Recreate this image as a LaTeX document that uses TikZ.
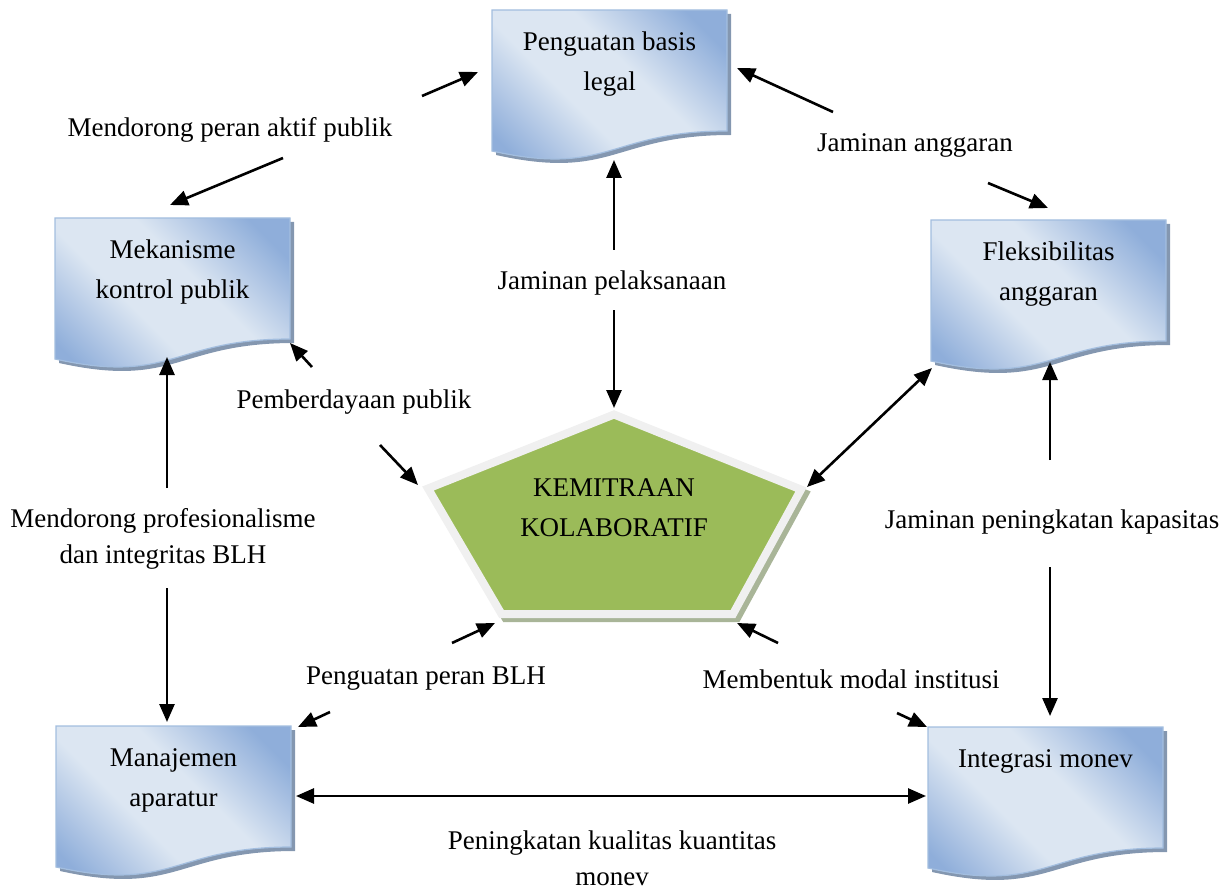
\documentclass[tikz,border=0pt]{standalone}
\usepackage{fontspec}
\setmainfont{Liberation Serif}
\usetikzlibrary{arrows.meta,calc}
\definecolor{docdark}{HTML}{8FAEDA}
\definecolor{doclight}{HTML}{DCE6F2}
\definecolor{docedge}{HTML}{A3BEDF}
\definecolor{docshadow}{HTML}{8497B0}
\definecolor{pentgreen}{HTML}{9BBB59}
\definecolor{pentedge}{HTML}{F0F0F0}
\definecolor{pentshadow}{HTML}{A9B598}
\pgfdeclarehorizontalshading{docshade}{100bp}{color(0bp)=(docdark); color(22bp)=(docdark); color(42bp)=(doclight); color(58bp)=(doclight); color(78bp)=(docdark); color(100bp)=(docdark)}
\tikzset{
  arr/.style={line width=2.6pt, -{Triangle[length=18pt,width=15pt]}},
  dblarr/.style={line width=2.6pt, {Triangle[length=18pt,width=15pt]}-{Triangle[length=18pt,width=15pt]}},
  boxtext/.style={align=center, inner sep=0pt, anchor=north, font=\fontsize{27}{40}\selectfont},
  lbl/.style={align=center, inner sep=0pt, font=\fontsize{27}{36}\selectfont},
  boxframe/.style={inner sep=0pt, minimum width=235pt, minimum height=151pt, anchor=north west}
}
\newcommand{\docbox}[4]{%
  \begin{scope}[shift={(#2,#3)}]
    \fill[docshadow] (4,4) -- (239,4) -- (239,125) .. controls (121.5,125) and (121.5,171) .. (4,145) -- cycle;
    \shadedraw[shading=docshade, shading angle=45, draw=docedge, line width=1.2pt]
      (0,0) -- (235,0) -- (235,121) .. controls (117.5,121) and (117.5,167) .. (0,141) -- cycle;
    \node[boxframe] (#1) at (0,0) {};
    \node[boxtext] (#1-t) at (117.5,22) {#4};
  \end{scope}}
\begin{document}
\begin{tikzpicture}[x=1pt,y=-1pt]
\useasboundingbox (0,0) rectangle (1230,890);

% document boxes
\docbox{legal}{492}{10}{Penguatan basis\\legal}
\docbox{kontrol}{55}{218}{Mekanisme\\kontrol publik}
\docbox{fleks}{931}{220}{Fleksibilitas\\anggaran}
\docbox{manaj}{56}{726}{Manajemen\\aparatur}
\docbox{monev}{928}{727}{Integrasi monev}

% pentagon
\fill[pentshadow, draw=pentshadow, line width=8pt, line join=miter]
  (618,418.5) -- (805,493.5) -- (737,618) -- (505.5,618) -- (432,492.5) -- cycle;
\filldraw[fill=pentgreen, draw=pentedge, line width=8pt, line join=miter]
  (614,414.5) -- (801,489.5) -- (733,614) -- (501.5,614) -- (428,488.5) -- cycle;
\node[boxtext, anchor=center] (kemitraan) at (614,508) {KEMITRAAN\\KOLABORATIF};

% labels
\node[lbl] (lA) at (230,130) {Mendorong peran aktif publik};
\node[lbl] (lB) at (915,145) {Jaminan anggaran};
\node[lbl] (lG) at (612,283) {Jaminan pelaksanaan};
\node[lbl] (lC) at (354,402) {Pemberdayaan publik};
\node[lbl] (lH) at (163,539) {Mendorong profesionalisme\\dan integritas BLH};
\node[lbl] (lI) at (1052,522) {Jaminan peningkatan kapasitas};
\node[lbl] (lE) at (426,679) {Penguatan peran BLH};
\node[lbl] (lF) at (851,679) {Membentuk modal institusi};
\node[lbl] (lJ) at (612,858) {Peningkatan kualitas kuantitas\\monev};

% connector end points
\coordinate (A1s) at (422,96);  \coordinate (A1e) at (478,72);
\coordinate (A2s) at (283,158); \coordinate (A2e) at (170,205);
\coordinate (B1s) at (833,112); \coordinate (B1e) at (737,68);
\coordinate (B2s) at (988,183); \coordinate (B2e) at (1048,208);
\coordinate (C1s) at (312,367); \coordinate (C1e) at (290,343);
\coordinate (C2s) at (380,445); \coordinate (C2e) at (418,485);
\coordinate (Ds) at (807,487);  \coordinate (De) at (932,368);
\coordinate (E1s) at (452,643); \coordinate (E1e) at (495,623);
\coordinate (E2s) at (330,712); \coordinate (E2e) at (298,727);
\coordinate (F1s) at (778,643); \coordinate (F1e) at (737,623);
\coordinate (F2s) at (897,713); \coordinate (F2e) at (927,727);
\coordinate (G1s) at (614,250); \coordinate (G1e) at (614,160);
\coordinate (G2s) at (614,310); \coordinate (G2e) at (614,408);
\coordinate (H1s) at (167,488); \coordinate (H1e) at (167,357);
\coordinate (H2s) at (167,588); \coordinate (H2e) at (167,722);
\coordinate (I1s) at (1050,460); \coordinate (I1e) at (1050,362);
\coordinate (I2s) at (1050,567); \coordinate (I2e) at (1050,716);
\coordinate (Js) at (296,796);  \coordinate (Je) at (926,796);

% connectors
\draw[arr] (A1s) -- (A1e);
\draw[arr] (A2s) -- (A2e);
\draw[arr] (B1s) -- (B1e);
\draw[arr] (B2s) -- (B2e);
\draw[arr] (C1s) -- (C1e);
\draw[arr] (C2s) -- (C2e);
\draw[dblarr] (Ds) -- (De);
\draw[arr] (E1s) -- (E1e);
\draw[arr] (E2s) -- (E2e);
\draw[arr] (F1s) -- (F1e);
\draw[arr] (F2s) -- (F2e);
\draw[arr] (G1s) -- (G1e);
\draw[arr] (G2s) -- (G2e);
\draw[arr] (H1s) -- (H1e);
\draw[arr] (H2s) -- (H2e);
\draw[arr] (I1s) -- (I1e);
\draw[arr] (I2s) -- (I2e);
\draw[dblarr] (Js) -- (Je);
\end{tikzpicture}
\end{document}
